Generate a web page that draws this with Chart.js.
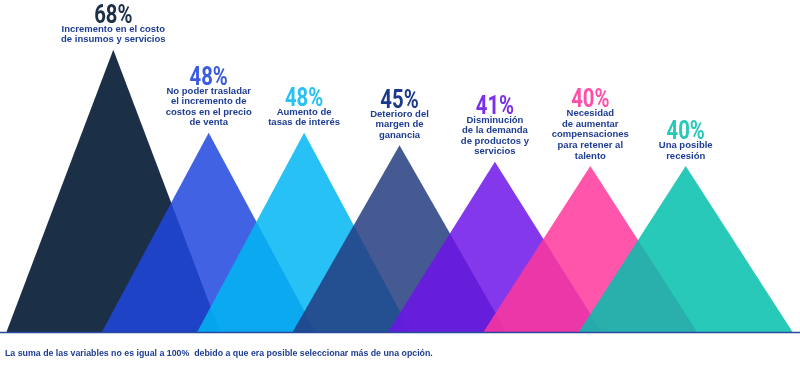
<!DOCTYPE html>
<html>
<head>
<meta charset="utf-8">
<script src="https://cdn.jsdelivr.net/npm/chart.js@4.4.1/dist/chart.umd.min.js"></script>
<style>
  html, body { margin: 0; padding: 0; background: #fff; }
  #wrap { width: 800px; height: 376px; position: relative; }
</style>
</head>
<body>
<div id="wrap"><canvas id="chart"></canvas></div>
<script>
// Datos del gráfico
const categories = [
  ['Incremento en el costo', 'de insumos y servicios'],
  ['No poder trasladar', 'el incremento de', 'costos en el precio', 'de venta'],
  ['Aumento de', 'tasas de interés'],
  ['Deterioro del', 'margen de', 'ganancia'],
  ['Disminución', 'de la demanda', 'de productos y', 'servicios'],
  ['Necesidad', 'de aumentar', 'compensaciones', 'para retener al', 'talento'],
  ['Una posible', 'recesión']
];
const values = [68, 48, 48, 45, 41, 40, 40];
const fillColors = [
  '#1b2f47',
  'rgba(32, 71, 222, 0.85)',
  'rgba(1, 182, 243, 0.85)',
  'rgba(37, 60, 128, 0.85)',
  'rgba(111, 21, 231, 0.85)',
  'rgba(255, 56, 156, 0.85)',
  'rgba(3, 191, 173, 0.85)'
];
const pctColors = ['#1b2f47', '#3a5be2', '#27c1f5', '#1b3a8c', '#7b2fe8', '#ff4fa8', '#27c9b9'];
const footnote = 'La suma de las variables no es igual a 100%  debido a que era posible seleccionar más de una opción.';

const HALF_BASE = 1.12;   // media base de cada triángulo (unidades del eje x)
const TEXT_BLUE = '#1e3d94';

// cada triángulo: base izquierda, cima, base derecha
const datasets = values.map((v, i) => ({
  label: categories[i].join(' '),
  data: [{x: i - HALF_BASE, y: 0}, {x: i, y: v}, {x: i + HALF_BASE, y: 0}],
  backgroundColor: fillColors[i],
  borderColor: 'rgba(0,0,0,0)',
  borderWidth: 0,
  pointRadius: 0,
  tension: 0,
  fill: 'origin',
  order: values.length - i
}));

const labelsPlugin = {
  id: 'mountainLabels',
  afterDatasetsDraw(chart) {
    const ctx = chart.ctx;
    const xs = chart.scales.x, ys = chart.scales.y;

    // línea base
    const yBase = ys.getPixelForValue(0);
    ctx.save();
    ctx.strokeStyle = '#2a4a9e';
    ctx.lineWidth = 1.5;
    ctx.beginPath();
    ctx.moveTo(0, yBase + 0.5);
    ctx.lineTo(chart.width, yBase + 0.5);
    ctx.stroke();

    const lineH = 10.6;
    values.forEach((v, i) => {
      const x = xs.getPixelForValue(i);
      const yTop = ys.getPixelForValue(v);
      const lines = categories[i];
      const last = yTop - 10;
      const first = last - (lines.length - 1) * lineH;

      ctx.fillStyle = TEXT_BLUE;
      ctx.font = 'bold 9.5px "Liberation Sans", Arial, sans-serif';
      ctx.textAlign = 'center';
      ctx.textBaseline = 'middle';
      lines.forEach((t, k) => ctx.fillText(t, x, first + k * lineH));

      ctx.save();
      ctx.translate(x, first - 6.5);
      ctx.scale(0.78, 1);
      ctx.fillStyle = pctColors[i];
      ctx.font = 'bold 26px Roboto, "Liberation Sans", sans-serif';
      ctx.textBaseline = 'alphabetic';
      ctx.fillText(v + '%', 0, 0);
      ctx.restore();
    });

    // nota al pie
    ctx.fillStyle = TEXT_BLUE;
    ctx.font = 'bold 8.8px "Liberation Sans", Arial, sans-serif';
    ctx.textAlign = 'left';
    ctx.textBaseline = 'middle';
    ctx.fillText(footnote, 5, 354);
    ctx.restore();
  }
};

new Chart(document.getElementById('chart'), {
  type: 'line',
  data: { datasets },
  options: {
    responsive: true,
    maintainAspectRatio: false,
    animation: false,
    layout: { padding: { top: 0, left: 0, right: 0, bottom: 44 } },
    scales: {
      x: { type: 'linear', display: false, min: -1.1876, max: 7.198 },
      y: { display: false, min: 0, max: 80 }
    },
    plugins: {
      legend: { display: false },
      tooltip: { enabled: false },
      title: { display: false }
    }
  },
  plugins: [labelsPlugin]
});
</script>
</body>
</html>
